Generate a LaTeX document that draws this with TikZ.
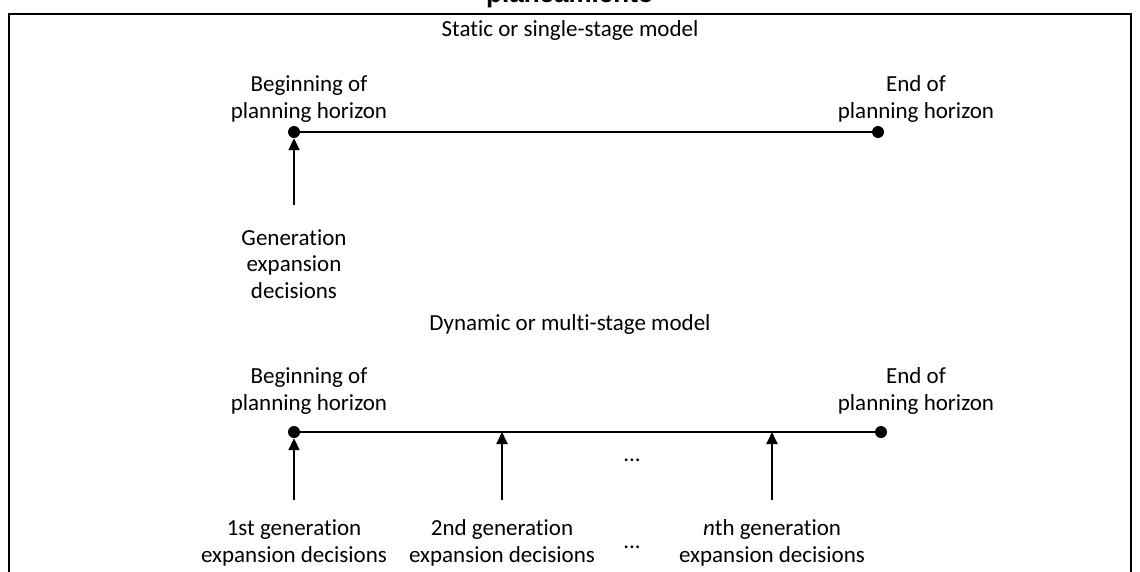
\documentclass[tikz,border=0pt]{standalone}
\usepackage{fontspec}
\setmainfont{Carlito}[Ligatures=NoCommon]
\newfontfamily\titlefont{Liberation Sans}
\usetikzlibrary{arrows.meta}
\begin{document}
\begin{tikzpicture}[x=1pt,y=-1pt,
  lbl/.style={font=\fontsize{23}{26.5}\selectfont, align=center, inner sep=0pt},
  dot/.style={circle, fill=black, inner sep=0pt, minimum size=12pt},
  tline/.style={line width=1.5pt},
  uparrow/.style={line width=2pt, -{Triangle[length=12pt,width=11pt]}},
  frame/.style={line width=2pt}]
\useasboundingbox (0,0) rectangle (1140,571);
\clip (0,0) rectangle (1140,571);

% outer frame and heading
\draw[frame] (9,14) rectangle (1131,620);
\node[font=\titlefont\bfseries\fontsize{26}{30}\selectfont, anchor=base, inner sep=0pt] (title) at (570,2) {planeamiento};

% ---- static model ----
\node[lbl, anchor=base] (static) at (570,36) {Static or single-stage model};
\node[lbl] (sbeg) at (309,99) {Beginning of\\planning horizon};
\node[lbl] (send) at (916,99) {End of\\planning horizon};
\node[dot] (s0) at (294,132) {};
\node[dot] (s1) at (878,132) {};
\draw[tline] (s0) -- (s1);
\node[lbl] (sgen) at (294,264) {Generation\\expansion\\decisions};
\coordinate (sfoot) at (294,205);
\draw[uparrow] (sfoot) -- (s0);

% ---- dynamic model ----
\node[lbl, anchor=base] (dynamic) at (570,330) {Dynamic or multi-stage model};
\node[lbl] (dbeg) at (309,391) {Beginning of\\planning horizon};
\node[lbl] (dend) at (916,391) {End of\\planning horizon};
\node[dot] (d0) at (294,432) {};
\node[dot] (d1) at (881,432) {};
\draw[tline] (d0) -- (d1);
\coordinate (d2) at (502,432);
\coordinate (dn) at (772,432);
\coordinate (f1) at (294,500);
\coordinate (f2) at (502,500);
\coordinate (fn) at (772,500);
\draw[uparrow] (f1) -- (d0);
\draw[uparrow] (f2) -- (d2);
\draw[uparrow] (fn) -- (dn);
\node[lbl, anchor=base] (gapa) at (632,461) {...};
\node[lbl] (g1) at (294,543) {1st generation\\expansion decisions};
\node[lbl] (g2) at (502,543) {2nd generation\\expansion decisions};
\node[lbl, anchor=base] (gapb) at (632,548) {...};
\node[lbl] (gn) at (772,543) {\textit{n}th generation\\expansion decisions};
\end{tikzpicture}
\end{document}
